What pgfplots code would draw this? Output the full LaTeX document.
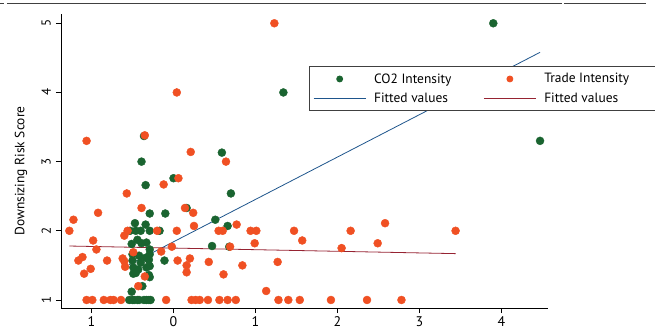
\documentclass[border=0pt]{standalone}
\usepackage{pgfplots}
\pgfplotsset{compat=1.18}
\usepackage{fontspec}
\setmainfont{PT Sans}
\definecolor{cgreen}{RGB}{26,100,48}
\definecolor{corange}{RGB}{240,80,35}
\definecolor{cblue}{RGB}{30,85,140}
\definecolor{cred}{RGB}{150,35,50}
\pgfplotsset{
 legmark/.style={legend image code/.code={\draw[mark repeat=2,mark phase=2,##1,mark size=3bp] plot coordinates {(0bp,0bp)(26bp,0bp)(52bp,0bp)};}},
 legline/.style={legend image code/.code={\draw[##1] (0bp,0bp) -- (52bp,0bp);}},
}
\begin{document}
\begin{tikzpicture}
\begin{axis}[
 scale only axis, width=487bp, height=294bp,
 at={(0,0)}, anchor=south west,
 xmin=-1.372, xmax=4.567, ymin=0.884, ymax=5.134,
 axis x line*=bottom, axis y line*=left,
 axis line style={black, line width=0.8bp, -},
 xtick={-1,0,1,2,3,4}, xticklabels={1,0,1,2,3,4},
 ytick={1,2,3,4,5},
 tick align=outside, major tick length=5bp,
 tick style={black, line width=0.6bp},
 /pgf/number format/assume math mode=true,
 x tick label style={font=\fontsize{14}{14}\selectfont},
 y tick label style={font=\fontsize{13}{13}\selectfont, rotate=90, anchor=south, inner sep=5bp},
 every axis y label/.style={at={(axis description cs:-0.082,0.466)}, rotate=90, anchor=center},
 ylabel={\fontsize{13.5}{13.5}\selectfont Downsizing Risk Score},
 legend columns=2,
 legend cell align=left,
 legend style={at={(axis description cs:0.509,0.823)}, anchor=north west,
   draw=black!75, line width=0.8bp, font=\fontsize{13.5}{13.5}\selectfont,
   inner xsep=4bp, inner ysep=5bp, row sep=4bp,
   /tikz/every odd column/.append style={column sep=6bp},
   /tikz/every even column/.append style={column sep=30bp}},
 clip=false,
]
\addplot[only marks, mark=*, color=cgreen, mark size=4bp, mark options={fill=cgreen, draw=cgreen}, legmark]
 coordinates {
 (1.34,4.0)(3.90,5.0)(4.47,3.30)
 (-0.36,3.37)(-0.39,3.0)(-0.34,2.66)(0.0,2.76)(0.59,3.13)(0.70,2.54)(-0.29,2.25)(-0.10,2.25)(0.16,2.33)(0.51,2.16)(0.66,2.07)(0.47,1.78)(0.68,1.77)(-0.11,1.57)(-0.47,2.11)(-0.34,2.09)
 (-0.53,2.0)(-0.46,2.0)(-0.40,2.0)(-0.29,2.0)(-0.17,2.0)
 (-0.51,1.81)(-0.44,1.87)(-0.39,1.82)(-0.33,1.83)(-0.29,1.73)
 (-0.50,1.66)(-0.42,1.64)(-0.34,1.61)(-0.29,1.66)
 (-0.50,1.57)(-0.40,1.54)(-0.30,1.58)(-0.29,1.49)
 (-0.49,1.47)(-0.43,1.44)(-0.33,1.47)
 (-0.49,1.38)(-0.46,1.39)(-0.30,1.36)(-0.29,1.33)
 (-0.38,1.20)(-0.51,1.12)
 (-0.54,1)(-0.50,1)(-0.48,1)(-0.44,1)(-0.42,1)(-0.36,1)(-0.33,1)(-0.30,1)(-0.28,1)
 };
\addlegendentry{CO2 Intensity}
\addplot[only marks, mark=*, color=corange, mark size=4bp, mark options={fill=corange, draw=corange}, legmark]
 coordinates {
 (1.23,5.0)(0.04,4.0)(-1.06,3.30)(-0.35,3.38)(0.21,3.14)(0.64,3.0)(-0.12,2.67)(0.06,2.76)(-0.57,2.54)
 (0.14,2.33)(0.24,2.26)(-0.39,2.33)(-0.92,2.26)(-1.22,2.16)(-1.27,2.0)(0.25,2.07)(0.77,2.09)
 (0.55,2.0)(0.60,2.0)(0.94,2.0)(1.01,2.0)(1.47,2.0)(1.57,1.86)(0.99,1.82)(0.04,2.0)(-0.20,2.0)
 (-0.56,2.0)(-0.60,1.93)(-0.98,1.86)(-0.94,1.73)(-0.49,1.69)(-0.02,1.77)(-0.15,1.70)(0.69,1.77)
 (-0.62,1.60)(-0.60,1.56)(-0.59,1.48)(-0.81,1.57)(-1.16,1.57)(-1.11,1.62)(-1.09,1.38)(-1.01,1.45)
 (0.05,1.57)(0.20,1.60)(0.16,1.50)(0.16,1.40)(0.43,1.55)(0.84,1.50)(0.61,1.37)(1.27,1.55)(1.13,1.13)
 (-0.35,1.34)(-0.43,1.20)
 (-1.06,1)(-0.99,1)(-0.85,1)(-0.77,1)(-0.73,1)(-0.64,1)(-0.09,1)(0.22,1)(0.27,1)(0.32,1)(0.42,1)
 (0.56,1)(0.66,1)(0.76,1)(1.28,1)(1.40,1)(1.54,1)(1.92,1)(2.36,1)(2.78,1)
 (2.05,1.75)(2.16,2.0)(2.49,1.82)(2.58,2.11)(3.44,2.0)
 };
\addlegendentry{\makebox[106bp][l]{Trade Intensity}}
\addplot[cblue, line width=0.8bp, no marks, legline]
 coordinates {(-0.54,1.51)(4.47,4.58)};
\addlegendentry{Fitted values}
\addplot[cred, line width=0.8bp, no marks, legline]
 coordinates {(-1.27,1.78)(3.44,1.67)};
\addlegendentry{Fitted values}
\end{axis}
\draw[black!75, line width=0.8bp] (-61bp,305bp) -- (-57bp,305bp);
\draw[black!75, line width=0.8bp] (-54bp,305bp) -- (501bp,305bp);
\draw[black!75, line width=0.8bp] (503bp,305bp) -- (585bp,305bp);
\pgfresetboundingbox
\useasboundingbox (-61bp,-22bp) rectangle (594bp,308bp);
\end{tikzpicture}
\end{document}
